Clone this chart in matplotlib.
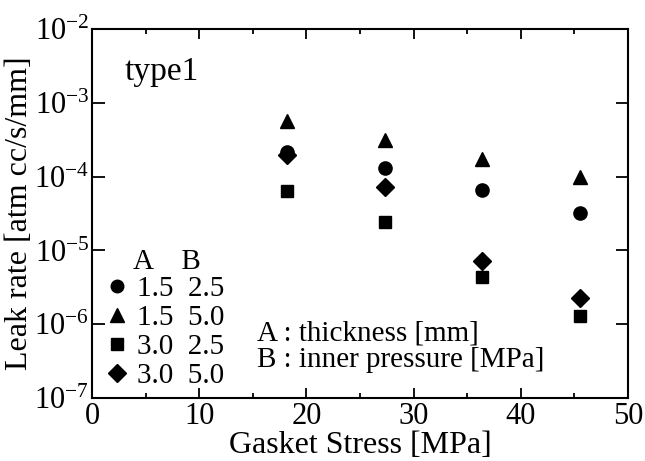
import math
import matplotlib
matplotlib.use("Agg")
import matplotlib.pyplot as plt
from matplotlib.ticker import FixedLocator, FuncFormatter, MultipleLocator

plt.rcParams['font.family'] = 'Liberation Serif'
plt.rcParams['mathtext.fontset'] = 'custom'
plt.rcParams['mathtext.rm'] = 'Liberation Serif'
plt.rcParams['mathtext.it'] = 'Liberation Serif:italic'

# gasket stress [MPa]
stress = [18.2, 27.3, 36.4, 45.5]

# leak rate [atm cc/s/mm]
leak_15_25 = [2.15e-4, 1.3e-4, 6.6e-5, 3.2e-5]
leak_15_50 = [5.6e-4, 3.1e-4, 1.74e-4, 1.0e-4]
leak_30_25 = [6.3e-5, 2.4e-5, 4.3e-6, 1.3e-6]
leak_30_50 = [1.96e-4, 7.2e-5, 7.2e-6, 2.3e-6]

labels = ["1.5  2.5", "1.5  5.0", "3.0  2.5", "3.0  5.0"]

fig = plt.figure(figsize=(6.45, 4.61), dpi=100)
ax = fig.add_axes([92 / 645, 1 - 398 / 461, 536 / 645, 369 / 461])

ax.plot(stress, leak_15_25, 'o', color='black', ms=9.5, label=labels[0])
ax.plot(stress, leak_15_50, '^', color='black', ms=10, label=labels[1])
ax.plot(stress, leak_30_25, 's', color='black', ms=8.5, label=labels[2])
ax.plot(stress, leak_30_50, 'D', color='black', ms=9.5, label=labels[3])

ax.set_yscale('log')
ax.set_xlim(0, 50)
ax.set_ylim(1e-7, 1e-2)
ax.xaxis.set_major_locator(MultipleLocator(10))
ax.xaxis.set_minor_locator(MultipleLocator(5))
ax.yaxis.set_major_locator(FixedLocator([1e-7, 1e-6, 1e-5, 1e-4, 1e-3, 1e-2]))
ax.yaxis.set_minor_locator(FixedLocator([]))
ax.yaxis.set_major_formatter(FuncFormatter(
    lambda v, p: r'$\mathrm{10^{%d}}$' % round(math.log10(v))))

ax.tick_params(which='both', direction='in', top=True, right=True,
               labelsize=22, width=1.3)
ax.tick_params(axis='x', which='major', length=7.5, pad=3)
ax.tick_params(axis='x', which='minor', length=3.5)
ax.tick_params(axis='y', which='major', length=9, pad=2)
for s in ax.spines.values():
    s.set_linewidth(1.5)

ax.set_xlabel('Gasket Stress [MPa]', fontsize=23, labelpad=0)
ax.set_ylabel('Leak rate [atm cc/s/mm]', fontsize=23, labelpad=0)

ax.text(0.06, 0.862, 'type1', transform=ax.transAxes, fontsize=24,
        va='baseline')
ax.text(0.308, 0.157, 'A : thickness [mm]', transform=ax.transAxes,
        fontsize=21, va='baseline')
ax.text(0.308, 0.084, 'B : inner pressure [MPa]', transform=ax.transAxes,
        fontsize=21, va='baseline')

# legend header
ax.text(0.0765, 0.369, 'A    B', transform=ax.transAxes, fontsize=21,
        va='center')

leg = ax.legend(loc='upper left', bbox_to_anchor=(0.025, 0.331), frameon=False,
                fontsize=21, handlelength=0.8, handletextpad=0.3,
                labelspacing=0.09, borderaxespad=0.0, borderpad=0.0,
                markerscale=0.95)

fig.savefig('out.png', dpi=100)
